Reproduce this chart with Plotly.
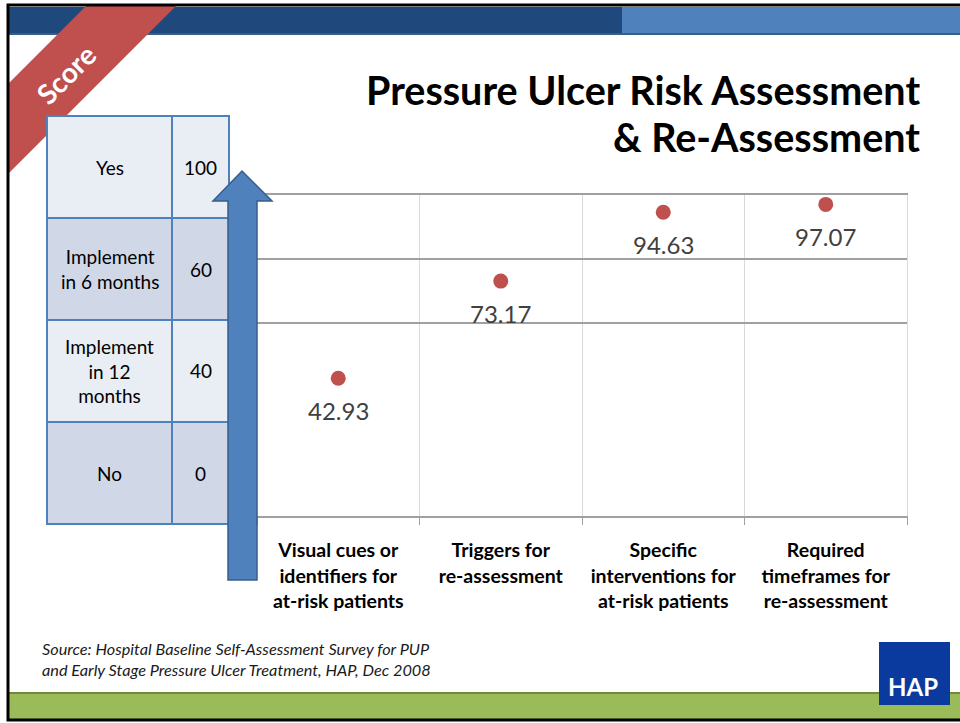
import plotly.graph_objects as go

# chart data
categories = [
    "Visual cues or<br>identifiers for<br>at-risk patients",
    "Triggers for<br>re-assessment",
    "Specific<br>interventions for<br>at-risk patients",
    "Required<br>timeframes for<br>re-assessment",
]
scores = [42.93, 73.17, 94.63, 97.07]
grid_values = [60, 80, 100]

# score key table
key_labels = ["Yes", "Implement<br>in 6 months", "Implement<br>in 12<br>months", "No"]
key_values = [100, 60, 40, 0]

W, H = 960, 723
FONT = "Lato"


def xp(x):
    return x / W


def yp(y):
    return 1 - y / H


fig = go.Figure()

fig.add_trace(go.Scatter(
    x=categories, y=scores, mode="markers",
    marker=dict(color="#C0504D", size=15),
    showlegend=False, hoverinfo="skip",
))

shapes = []
annotations = []


def rect(x0, y0, x1, y1, fill, line=None, width=0, layer="below"):
    shapes.append(dict(type="rect", xref="paper", yref="paper",
                       x0=xp(x0), x1=xp(x1), y0=yp(y1), y1=yp(y0),
                       fillcolor=fill, layer=layer,
                       line=dict(color=line or fill, width=width)))


def poly(pts, fill, line, width=0, layer="below"):
    path = "M " + " L ".join(f"{xp(a):.5f},{yp(b):.5f}" for a, b in pts) + " Z"
    shapes.append(dict(type="path", xref="paper", yref="paper", path=path,
                       fillcolor=fill, layer=layer,
                       line=dict(color=line, width=width)))


def text(x, y, s, size, color="black", bold=False, italic=False,
         xanchor="center", align="center", angle=0):
    if bold:
        s = f"<b>{s}</b>"
    if italic:
        s = f"<i>{s}</i>"
    annotations.append(dict(xref="paper", yref="paper", x=xp(x), y=yp(y),
                            text=s, showarrow=False, xanchor=xanchor,
                            yanchor="middle", align=align, textangle=angle,
                            font=dict(family=FONT, size=size, color=color)))


# slide frame: top bars and bottom band
rect(8, 7, 622, 34, "#1F497D")
rect(622, 7, 960, 34, "#4F81BD")
rect(8, 33, 960, 35, "#385D8A")
rect(8, 693, 960, 719, "#9BBB59")
rect(8, 692, 960, 694, "#71893F")

# red "Score" ribbon
poly([(8, 84), (87, 5), (177, 5), (8, 174)], "#C0504D", "#C0504D")
text(66, 74, "Score", 28, color="white", bold=True, angle=-45)

# score key table
cols = [47, 172, 229]
rows = [116, 218, 320, 422, 524]
fills = ["#E9EDF4", "#D0D8E8"]
for i, (lab, val) in enumerate(zip(key_labels, key_values)):
    for c in range(2):
        rect(cols[c], rows[i], cols[c + 1], rows[i + 1], fills[i % 2],
             line="#4F81BD", width=2)
    ym = (rows[i] + rows[i + 1]) / 2
    text((cols[0] + cols[1]) / 2, ym, lab, 19)
    text((cols[1] + cols[2]) / 2, ym, str(val), 19)

# blue arrow
poly([(228, 580), (228, 201), (213, 201), (242, 171), (272, 201),
      (257, 201), (257, 580)], "#4F81BD", "#385D8A", width=1.5, layer="above")

# title
text(922, 89, "Pressure Ulcer Risk Assessment", 39.5, bold=True, xanchor="right")
text(922, 136, "&amp; Re-Assessment", 39.5, bold=True, xanchor="right")

# source note
text(40, 659, "Source: Hospital Baseline Self-Assessment Survey for PUP<br>"
     "and Early Stage Pressure Ulcer Treatment, HAP, Dec 2008", 16.3,
     color="#1a1a1a", italic=True, xanchor="left", align="left")

# HAP logo
rect(879, 642, 950, 705, "#0A3A9E")
text(913, 686, "HAP", 24, color="white", bold=True)

# data labels under markers
for cat, val in zip(categories, scores):
    annotations.append(dict(x=cat, y=val, xref="x", yref="y",
                            text=f"{val:.2f}", showarrow=False, yshift=-32,
                            font=dict(family=FONT, size=24, color="#404040")))

# outer border
shapes.append(dict(type="rect", xref="paper", yref="paper",
                   x0=xp(8), x1=xp(963), y0=yp(720), y1=yp(5),
                   line=dict(color="black", width=3), layer="above"))

fig.update_layout(
    width=W, height=H,
    margin=dict(l=0, r=0, t=0, b=0),
    paper_bgcolor="white", plot_bgcolor="white",
    shapes=shapes, annotations=annotations,
    font=dict(family=FONT, color="black"),
    xaxis=dict(domain=[xp(257), xp(907)], type="category",
               tickson="boundaries", range=[-0.5, 3.5],
               showgrid=True, gridcolor="#D9D9D9", gridwidth=1,
               showline=True, mirror=True, linecolor="#A0A0A0", linewidth=1.5,
               ticks="outside", ticklen=7, tickcolor="#A0A0A0",
               tickfont=dict(family=FONT, size=19.5, color="black", weight="bold"),
               ticklabelstandoff=16, automargin=False, fixedrange=True),
    yaxis=dict(domain=[yp(516), yp(195)], range=[0, 100],
               tickvals=grid_values, showticklabels=False,
               showgrid=True, gridcolor="#A0A0A0", gridwidth=1.5,
               showline=True, mirror=True, linecolor="#D9D9D9",
               zeroline=False, automargin=False, fixedrange=True),
)

fig.write_html("out.html", config={"displayModeBar": False},
               post_script="document.body.style.margin='0';")
